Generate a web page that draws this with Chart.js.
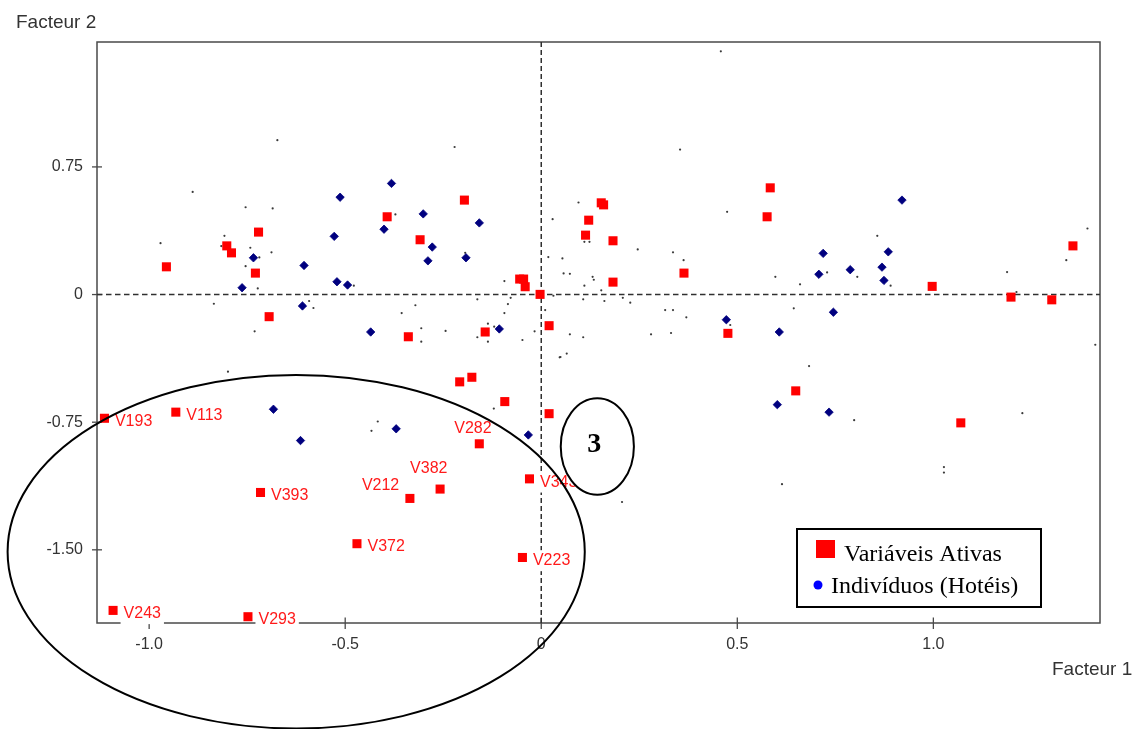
<!DOCTYPE html>
<html>
<head>
<meta charset="utf-8">
<script src="https://cdn.jsdelivr.net/npm/chart.js@4/dist/chart.umd.min.js"></script>
<style>
  html, body { margin: 0; padding: 0; background: #ffffff; }
  canvas { display: block; }
</style>
</head>
<body>
<canvas id="chart" width="1141" height="729"></canvas>
<script>
// Axis ticks
const xTicks = [-1.0, -0.5, 0, 0.5, 1.0];
const yTicks = [0.75, 0, -0.75, -1.50];

// Variáveis Ativas (factor 1, factor 2); names only for the labelled ones
const activeNames = [
  '', '', '', '', '', '', '', '', '', '', '', '', '', '', '',
  '', '', '', '', '', '', '', '', '', '', '', '', '', '', '', '', '', '',
  '', '', '',
  'V193', 'V113', 'V393', 'V212', 'V382', 'V372', 'V223', 'V343', 'V243', 'V293', 'V282'
];
const activeX = [
  -0.956, -0.802, -0.790, -0.721, -0.729, -0.694, -0.393, -0.309, -0.196, -0.339, -0.143, -0.055, -0.045, -0.041, -0.003,
  0.584, 0.576, 0.153, 0.159, 0.121, 0.113, 0.183, 0.183, 0.364, 0.997, 1.198, 1.302, 1.356, 0.020, 0.476, 0.649, 1.070, 0.020,
  -0.208, -0.177, -0.093,
  -1.114, -0.932, -0.716, -0.335, -0.258, -0.470, -0.048, -0.030, -1.092, -0.748, -0.158
];
const activeY = [
  0.163, 0.286, 0.245, 0.367, 0.126, -0.130, 0.457, 0.322, 0.555, -0.248, -0.220, 0.091, 0.091, 0.046, 0.001,
  0.627, 0.457, 0.539, 0.527, 0.437, 0.349, 0.316, 0.073, 0.126, 0.048, -0.015, -0.031, 0.286, -0.183, -0.228, -0.566, -0.754, -0.700,
  -0.513, -0.486, -0.629,
  -0.727, -0.691, -1.163, -1.198, -1.143, -1.464, -1.545, -1.083, -1.856, -1.893, -0.877
];

// Indivíduos (Hotéis)
const hotelX = [
  -0.382, -0.513, -0.301, -0.158, -0.401, -0.528, -0.278, -0.289, -0.192, -0.734, -0.605, -0.763, -0.521, -0.494, -0.609, -0.435, -0.107,
  0.920, 0.719, 0.885, 0.788, 0.869, 0.708, 0.874, 0.745, 0.472, 0.607, 0.602, 0.734,
  -0.683, -0.614, -0.370, -0.033
];
const hotelY = [
  0.653, 0.572, 0.474, 0.421, 0.384, 0.342, 0.279, 0.198, 0.216, 0.216, 0.171, 0.040, 0.075, 0.056, -0.067, -0.220, -0.202,
  0.555, 0.242, 0.251, 0.146, 0.161, 0.119, 0.083, -0.104, -0.148, -0.220, -0.647, -0.691,
  -0.674, -0.858, -0.789, -0.825
];

// Supplementary points (small dots)
const suppX = [
  -0.889, -0.754, -0.685, -0.971, -0.808, -0.816, -0.742, -0.688, -0.719, -0.754, -0.727, -0.723, -0.835, -0.731,
  -0.372, -0.194, -0.478, -0.592, -0.581, -0.356, -0.321, -0.306, -0.306, -0.244, -0.163, -0.163, -0.136, -0.136, -0.120,
  -0.094, -0.078, -0.085, -0.094, -0.048, -0.017, 0.010, 0.029, 0.018, 0.031, 0.047, 0.095, 0.054, 0.110, 0.123,
  0.246, 0.336, 0.363, 0.474, 0.057, 0.073, 0.131, 0.134, 0.110, 0.153, 0.107, 0.161, 0.208, 0.227, 0.316, 0.336,
  0.370, 0.073, 0.107, 0.280, 0.331, 0.049, 0.065, 0.482, 0.597, 0.660, 0.729, 0.806, 0.857, 0.891, 0.644, 0.683,
  0.798, 1.188, 1.212, 1.227, 1.393, 1.339, 1.413, -0.121, -0.433, -0.417, -0.799, 0.206, 0.614, 1.027, 1.027,
  -0.673, -0.221, 0.354, 0.458
];
const suppY = [
  0.603, 0.513, 0.506, 0.302, 0.345, 0.285, 0.275, 0.248, 0.218, 0.167, 0.132, 0.036, -0.054, -0.216,
  0.471, 0.245, 0.052, -0.038, -0.079, -0.109, -0.063, -0.198, -0.277, -0.214, -0.028, -0.251, -0.171, -0.277, -0.189,
  0.079, -0.019, -0.056, -0.109, -0.267, -0.216, -0.091, 0.443, 0.220, -0.007, -0.369, 0.541, 0.212, 0.310, 0.310,
  0.265, 0.248, 0.202, 0.486, 0.124, 0.122, 0.104, 0.087, 0.052, 0.025, -0.028, -0.038, -0.019, -0.048, -0.091, -0.091,
  -0.134, -0.234, -0.251, -0.234, -0.226, -0.367, -0.347, -0.179, 0.104, 0.060, 0.130, 0.104, 0.345, 0.052, -0.081, -0.420,
  -0.738, 0.132, 0.015, -0.697, 0.388, 0.202, -0.295, -0.670, -0.801, -0.746, -0.453, -1.219, -1.114, -1.014, -1.046,
  0.907, 0.867, 0.852, 1.429
];

// Text placement of point labels (pixel offsets from the point)
const labelOffsetDefault = [10.5, 7.7];
const labelOffsets = { V212: [-48, -8], V382: [-30, -16], V282: [-25, -11] };

// Highlighted groups drawn as ellipses, in factor units
const groupEllipse = { cx: -0.625, cy: -1.511, rx: 0.736, ry: 1.039 };
const groupTag = { cx: 0.143, cy: -0.893, rx: 0.0933, ry: 0.2835, text: '3' };

const toPoints = (xs, ys) => xs.map((x, i) => ({ x: x, y: ys[i] }));

const decor = {
  id: 'decor',
  beforeDatasetsDraw(chart) {
    const { ctx, chartArea: a, scales: { x, y } } = chart;
    ctx.save();
    // frame
    ctx.strokeStyle = '#4a4a4a';
    ctx.lineWidth = 1.5;
    ctx.strokeRect(a.left, a.top, a.right - a.left, a.bottom - a.top);
    // tick marks crossing the axes
    ctx.lineWidth = 1.3;
    yTicks.forEach(v => {
      const p = y.getPixelForValue(v);
      ctx.beginPath(); ctx.moveTo(a.left - 5, p); ctx.lineTo(a.left + 5, p); ctx.stroke();
    });
    xTicks.forEach(v => {
      const p = x.getPixelForValue(v);
      ctx.beginPath(); ctx.moveTo(p, a.bottom - 5.5); ctx.lineTo(p, a.bottom + 6); ctx.stroke();
    });
    // dashed zero lines
    ctx.strokeStyle = '#303030';
    ctx.lineWidth = 1.5;
    const x0 = x.getPixelForValue(0), y0 = y.getPixelForValue(0);
    ctx.setLineDash([5, 3]);
    ctx.beginPath(); ctx.moveTo(x0, a.top); ctx.lineTo(x0, a.bottom); ctx.stroke();
    ctx.setLineDash([5.5, 3.5]);
    ctx.beginPath(); ctx.moveTo(a.left, y0); ctx.lineTo(a.right, y0); ctx.stroke();
    ctx.restore();
  },
  afterDatasetsDraw(chart) {
    const { ctx, scales: { x, y } } = chart;
    ctx.save();
    // point labels on a white ground
    ctx.font = '16px "Liberation Sans", Arial, sans-serif';
    ctx.textBaseline = 'alphabetic';
    ctx.textAlign = 'left';
    activeNames.forEach((name, i) => {
      if (!name) return;
      const off = labelOffsets[name] || labelOffsetDefault;
      const tx = x.getPixelForValue(activeX[i]) + off[0];
      const ty = y.getPixelForValue(activeY[i]) + off[1];
      const w = ctx.measureText(name).width;
      ctx.fillStyle = '#ffffff';
      ctx.fillRect(tx - 3, ty - 15, w + 6, 21);
      ctx.fillStyle = '#ff1a1a';
      ctx.fillText(name, tx, ty);
    });

    // group ellipses
    const ell = (e, fill) => {
      const cx = x.getPixelForValue(e.cx), cy = y.getPixelForValue(e.cy);
      const rx = Math.abs(x.getPixelForValue(e.cx + e.rx) - cx);
      const ry = Math.abs(y.getPixelForValue(e.cy + e.ry) - cy);
      ctx.beginPath();
      ctx.ellipse(cx, cy, rx, ry, 0, 0, Math.PI * 2);
      if (fill) { ctx.fillStyle = '#ffffff'; ctx.fill(); }
      ctx.strokeStyle = '#000000';
      ctx.lineWidth = 2;
      ctx.stroke();
      return { cx, cy };
    };
    ell(groupEllipse, false);
    const t = ell(groupTag, true);
    ctx.fillStyle = '#000000';
    ctx.font = 'bold 28px "Liberation Serif", "Times New Roman", serif';
    ctx.textAlign = 'center';
    ctx.fillText(groupTag.text, t.cx - 3, t.cy + 5);

    // legend
    const lx = 797, ly = 529, lw = 244, lh = 78;
    ctx.fillStyle = '#ffffff';
    ctx.fillRect(lx, ly, lw, lh);
    ctx.strokeStyle = '#000000';
    ctx.lineWidth = 2;
    ctx.strokeRect(lx, ly, lw, lh);
    ctx.fillStyle = '#ff0000';
    ctx.fillRect(816, 540, 19, 18);
    ctx.fillStyle = '#0000ff';
    ctx.beginPath(); ctx.arc(818, 585, 4.5, 0, Math.PI * 2); ctx.fill();
    ctx.fillStyle = '#000000';
    ctx.textAlign = 'left';
    ctx.font = '24px "Liberation Serif", "Times New Roman", serif';
    ctx.fillText(chart.data.datasets[0].label, 844, 561);
    ctx.fillText(chart.data.datasets[1].label, 831, 593);

    // axis titles
    ctx.fillStyle = '#333333';
    ctx.font = '19px "Liberation Sans", Arial, sans-serif';
    ctx.fillText('Facteur 2', 16, 28);
    ctx.fillText('Facteur 1', 1052, 675);
    ctx.restore();
  }
};

const tickFont = { family: '"Liberation Sans", Arial, sans-serif', size: 16 };

new Chart(document.getElementById('chart'), {
  type: 'scatter',
  data: {
    datasets: [
      {
        label: 'Variáveis Ativas',
        data: toPoints(activeX, activeY),
        pointStyle: 'rect', pointRadius: 6.4,
        backgroundColor: '#ff0000', borderColor: '#ff0000', borderWidth: 0,
        order: 0
      },
      {
        label: 'Indivíduos (Hotéis)',
        data: toPoints(hotelX, hotelY),
        pointStyle: 'rectRot', pointRadius: 4.2,
        backgroundColor: '#00007f', borderColor: '#00007f', borderWidth: 0.8,
        order: 1
      },
      {
        label: 'Suplementares',
        data: toPoints(suppX, suppY),
        pointStyle: 'circle', pointRadius: 1.1,
        backgroundColor: '#3a3a3a', borderWidth: 0,
        order: 2
      }
    ]
  },
  options: {
    responsive: false,
    animation: false,
    devicePixelRatio: 1,
    events: [],
    layout: { padding: { top: 42, right: 41, left: 0, bottom: 0 } },
    plugins: { legend: { display: false }, tooltip: { enabled: false } },
    scales: {
      x: {
        type: 'linear', min: -1.133, max: 1.425,
        grid: { display: false, drawTicks: false }, border: { display: false },
        afterBuildTicks: s => { s.ticks = xTicks.map(v => ({ value: v })); },
        afterFit: s => { s.height = 106; },
        ticks: {
          autoSkip: false, maxRotation: 0, padding: 12, color: '#333333', font: tickFont,
          callback: v => (v === 0 ? '0' : Number(v).toFixed(1))
        }
      },
      y: {
        type: 'linear', min: -1.930, max: 1.484,
        grid: { display: false, drawTicks: false }, border: { display: false },
        afterBuildTicks: s => { s.ticks = yTicks.map(v => ({ value: v })); },
        afterFit: s => { s.width = 97; },
        ticks: {
          autoSkip: false, padding: 14, color: '#333333', font: tickFont,
          callback: v => (v === 0 ? '0' : Number(v).toFixed(2))
        }
      }
    }
  },
  plugins: [decor]
});
</script>
</body>
</html>
